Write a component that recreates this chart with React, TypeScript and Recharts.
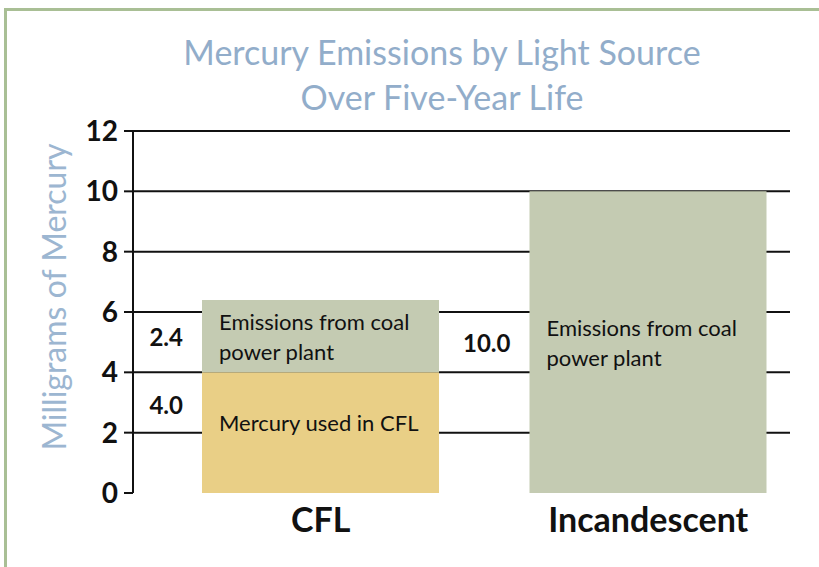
import React from 'react';
import { Bar, BarChart, CartesianGrid, LabelList, XAxis, YAxis } from 'recharts';

const categories = ['CFL', 'Incandescent'];
const mercuryInBulb = [4.0, 0];
const coalPlant = [2.4, 10.0];
const bulbNotes = [['Mercury used in CFL'], []];
const coalNotes = [
  ['Emissions from coal', 'power plant'],
  ['Emissions from coal', 'power plant'],
];
const yTicks = [0, 2, 4, 6, 8, 10, 12];

const data = categories.map((name, i) => ({
  name,
  bulb: mercuryInBulb[i],
  coal: coalPlant[i],
}));

const FONT = 'Lato, "Open Sans", sans-serif';

function CoalLabel(props: any) {
  const { x, y, height, value, index } = props;
  if (!value) return null;
  const cy = y + height / 2;
  const notes = coalNotes[index] || [];
  return (
    <g fontFamily={FONT}>
      <text x={x - 19} y={cy} textAnchor="end" dominantBaseline="central" fontSize={24} fontWeight={700} fill="#111">
        {value.toFixed(1)}
      </text>
      {notes.map((line, k) => (
        <text key={k} x={x + 17} y={cy + (k - (notes.length - 1) / 2) * 30} dominantBaseline="central" fontSize={22} fill="#111">
          {line}
        </text>
      ))}
    </g>
  );
}

function BulbLabel(props: any) {
  const { x, y, value, index } = props;
  if (!value) return null;
  const notes = bulbNotes[index] || [];
  return (
    <g fontFamily={FONT}>
      <text x={x - 19} y={y + 32} textAnchor="end" dominantBaseline="central" fontSize={24} fontWeight={700} fill="#111">
        {value.toFixed(1)}
      </text>
      {notes.map((line, k) => (
        <text key={k} x={x + 17} y={y + 50 + k * 30} dominantBaseline="central" fontSize={22} fill="#111">
          {line}
        </text>
      ))}
    </g>
  );
}

export default function App() {
  return (
    <div style={{ position: 'absolute', left: 0, top: 0, width: 819, height: 567, overflow: 'hidden', background: '#fff' }}>
      <div
        style={{
          position: 'absolute',
          left: 4,
          top: 8,
          right: 0,
          bottom: 0,
          borderLeft: '3px solid #a9bf95',
          borderTop: '3px solid #a9bf95',
        }}
      />
      <div
        style={{
          position: 'absolute',
          left: 65,
          width: 754,
          top: 29,
          textAlign: 'center',
          fontFamily: FONT,
          fontSize: 34,
          lineHeight: '45px',
          color: '#92adca',
        }}
      >
        Mercury Emissions by Light Source
        <br />
        Over Five-Year Life
      </div>
      <BarChart
        width={819}
        height={567}
        data={data}
        margin={{ top: 131, right: 29, bottom: 14, left: 0 }}
        style={{ position: 'absolute', left: 0, top: 0 }}
      >
        <CartesianGrid
          vertical={false}
          stroke="#111"
          strokeWidth={2}
          horizontalValues={yTicks.filter((t) => t > 0)}
        />
        <XAxis
          dataKey="name"
          axisLine={false}
          tickLine={false}
          height={60}
          tickMargin={9}
          padding={{ left: 24, right: -22 }}
          tick={{ fontFamily: FONT, fontSize: 34, fontWeight: 700, fill: '#111' }}
        />
        <YAxis
          width={133}
          domain={[0, 12]}
          ticks={yTicks}
          interval={0}
          axisLine={{ stroke: '#111', strokeWidth: 2 }}
          tickLine={{ stroke: '#111', strokeWidth: 2 }}
          tickSize={9}
          tickMargin={6}
          tick={{ fontFamily: FONT, fontSize: 28, fontWeight: 700, fill: '#111' }}
          label={{
            content: ({ viewBox }: any) => {
              const cx = 53;
              const cy = viewBox.y + viewBox.height / 2 - 15;
              return (
                <text
                  x={cx}
                  y={cy}
                  transform={`rotate(-90 ${cx} ${cy})`}
                  textAnchor="middle"
                  dominantBaseline="central"
                  fontFamily={FONT}
                  fontSize={32}
                  fill="#9cb6d1"
                >
                  Milligrams of Mercury
                </text>
              );
            },
          }}
        />
        <Bar dataKey="bulb" stackId="a" fill="#e9cf86" barSize={237} isAnimationActive={false}>
          <LabelList dataKey="bulb" content={BulbLabel} />
        </Bar>
        <Bar dataKey="coal" stackId="a" fill="#c4cbb2" barSize={237} isAnimationActive={false}>
          <LabelList dataKey="coal" content={CoalLabel} />
        </Bar>
      </BarChart>
    </div>
  );
}
